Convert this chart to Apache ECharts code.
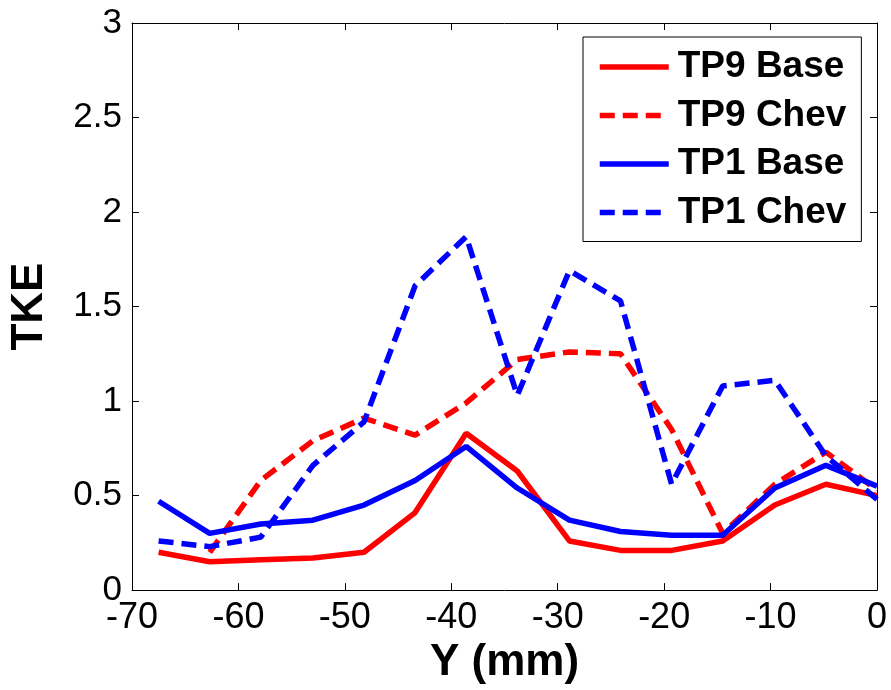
<!DOCTYPE html>
<html>
<head>
<meta charset="utf-8">
<script src="https://cdn.jsdelivr.net/npm/echarts@6/dist/echarts.min.js"></script>
<style>
html,body{margin:0;padding:0;background:#fff;}
#chart{width:891px;height:690px;}
</style>
</head>
<body>
<div id="chart"></div>
<script>
// Y positions (mm)
var yPos = [-67.5, -62.7, -57.9, -53.0, -48.2, -43.4, -38.6, -33.8, -28.9, -24.1, -19.3, -14.5, -9.6, -4.8, 0];
// TKE values
var tp9Base = [0.20, 0.15, 0.16, 0.17, 0.20, 0.41, 0.83, 0.63, 0.26, 0.21, 0.21, 0.26, 0.45, 0.56, 0.50];
var tp9Chev = [null, 0.20, 0.58, 0.79, 0.91, 0.82, 0.99, 1.22, 1.26, 1.25, 0.85, 0.30, 0.56, 0.73, 0.53];
var tp1Base = [0.47, 0.30, 0.35, 0.37, 0.45, 0.58, 0.76, 0.54, 0.37, 0.31, 0.29, 0.29, 0.54, 0.66, 0.55];
var tp1Chev = [0.26, 0.23, 0.28, 0.66, 0.89, 1.61, 1.87, 1.03, 1.69, 1.53, 0.56, 1.08, 1.11, 0.71, 0.48];
var seriesNames = ['TP9 Base', 'TP9 Chev', 'TP1 Base', 'TP1 Chev'];
var xTicks = {min: -70, max: 0, interval: 10};
var yTicks = {min: 0, max: 3, interval: 0.5};

function pairs(vals) {
  var out = [];
  for (var i = 0; i < yPos.length; i++) {
    if (vals[i] !== null) out.push([yPos[i], vals[i]]);
  }
  return out;
}

var FONT = "'Liberation Sans', Arial, sans-serif";
var RED = '#ff0000', BLUE = '#0000ff';
var DASH = [15, 8];
var LW = 5.5;

var chart = echarts.init(document.getElementById('chart'), null, {renderer: 'canvas'});

function mkSeries(name, vals, color, dashed) {
  return {
    name: name,
    type: 'line',
    xAxisIndex: 0,
    yAxisIndex: 0,
    data: pairs(vals),
    symbol: 'none',
    showSymbol: false,
    smooth: false,
    animation: false,
    lineStyle: {color: color, width: LW, type: dashed ? DASH : 'solid'},
    itemStyle: {color: color}
  };
}

var axisCommonX = {
  type: 'value', min: xTicks.min, max: xTicks.max, interval: xTicks.interval,
  axisLine: {show: true, onZero: false, lineStyle: {color: '#000', width: 1}},
  axisTick: {show: true, inside: true, length: 7, lineStyle: {color: '#000', width: 1}},
  splitLine: {show: false}
};
var axisCommonY = {
  type: 'value', min: yTicks.min, max: yTicks.max, interval: yTicks.interval,
  axisLine: {show: true, onZero: false, lineStyle: {color: '#000', width: 1}},
  axisTick: {show: true, inside: true, length: 7, lineStyle: {color: '#000', width: 1}},
  splitLine: {show: false}
};

var option = {
  backgroundColor: '#fff',
  animation: false,
  grid: {left: 128, right: 14, top: 23, bottom: 97, containLabel: false},
  legend: {
    show: true,
    orient: 'vertical',
    left: 583, top: 37,
    data: seriesNames,
    backgroundColor: '#fff',
    borderColor: '#000', borderWidth: 1,
    padding: [10, 15, 9, 14],
    itemWidth: 69, itemHeight: 20, itemGap: 8.5,
    itemStyle: {opacity: 0},
    lineStyle: {width: LW},
    textStyle: {fontFamily: FONT, fontSize: 37, fontWeight: 'bold', color: '#000', lineHeight: 40, padding: [0, 0, 0, 4]}
  },
  xAxis: [
    Object.assign({}, axisCommonX, {
      position: 'bottom',
      name: 'Y (mm)', nameLocation: 'middle', nameGap: 46,
      nameTextStyle: {fontFamily: FONT, fontSize: 44, fontWeight: 'bold', color: '#000'},
      axisLabel: {show: true, margin: 10, fontFamily: FONT, fontSize: 36, color: '#000'}
    }),
    Object.assign({}, axisCommonX, {position: 'top', axisLabel: {show: false}})
  ],
  yAxis: [
    Object.assign({}, axisCommonY, {
      position: 'left',
      name: 'TKE', nameLocation: 'middle', nameGap: 80, nameRotate: 90,
      nameTextStyle: {fontFamily: FONT, fontSize: 44, fontWeight: 'bold', color: '#000'},
      axisLabel: {show: true, margin: 10, fontFamily: FONT, fontSize: 35, color: '#000'}
    }),
    Object.assign({}, axisCommonY, {position: 'right', axisLabel: {show: false}})
  ],
  series: [
    mkSeries(seriesNames[0], tp9Base, RED, false),
    mkSeries(seriesNames[1], tp9Chev, RED, true),
    mkSeries(seriesNames[2], tp1Base, BLUE, false),
    mkSeries(seriesNames[3], tp1Chev, BLUE, true)
  ]
};
chart.setOption(option);
</script>
</body>
</html>
